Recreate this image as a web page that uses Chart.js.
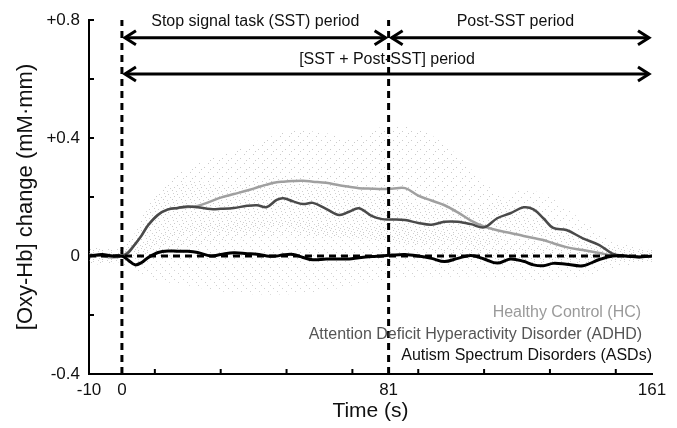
<!DOCTYPE html>
<html>
<head>
<meta charset="utf-8">
<script src="https://cdn.jsdelivr.net/npm/chart.js@4"></script>
<style>
  html, body { margin: 0; padding: 0; background: #fff; }
  #wrap { width: 677px; height: 428px; }
</style>
</head>
<body>
<div id="wrap"><canvas id="chartCanvas" width="677" height="428"></canvas></div>
<script>
// 時間點 (s)
const timeS = [-10, -6, -3, 0, 2, 4, 6, 8, 11, 14, 17, 20, 23, 27, 30, 34, 38, 41, 44, 47, 49, 52, 55, 58,
  62, 66, 69, 72, 76, 79, 82, 86, 90, 94, 98, 102, 106, 110, 114, 118, 122, 125, 128, 131, 135, 140,
  145, 149, 153, 157, 161];

// 平均 [Oxy-Hb] 變化
const hcMean = [0.005, 0.0, -0.005, 0.0, 0.015, 0.04, 0.07, 0.105, 0.14, 0.158, 0.163, 0.166, 0.17, 0.185,
  0.198, 0.21, 0.222, 0.232, 0.242, 0.25, 0.252, 0.254, 0.255, 0.252, 0.248, 0.24, 0.235, 0.23, 0.228,
  0.227, 0.228, 0.23, 0.205, 0.188, 0.172, 0.148, 0.12, 0.1, 0.087, 0.078, 0.068, 0.061, 0.054, 0.043,
  0.03, 0.02, 0.01, 0.002, 0.0, -0.003, 0.0];
const adhdMean = [0.0, 0.003, 0.0, 0.0, 0.012, 0.04, 0.07, 0.105, 0.14, 0.158, 0.163, 0.168, 0.165, 0.159,
  0.16, 0.163, 0.17, 0.172, 0.166, 0.19, 0.196, 0.185, 0.176, 0.18, 0.16, 0.139, 0.15, 0.162, 0.135,
  0.125, 0.124, 0.122, 0.112, 0.106, 0.116, 0.116, 0.108, 0.097, 0.128, 0.145, 0.165, 0.158, 0.128,
  0.095, 0.088, 0.06, 0.037, 0.008, 0.0, -0.003, 0.0];
const asdMean = [0.0, 0.005, 0.0, 0.0, -0.015, -0.03, -0.022, -0.005, 0.012, 0.017, 0.016, 0.016, 0.012, 0.0,
  0.005, 0.011, 0.008, 0.006, 0.0, 0.0, 0.004, 0.005, -0.005, -0.013, -0.01, -0.01, -0.01, -0.006,
  -0.002, 0.0, 0.003, 0.005, 0.0, -0.008, -0.019, -0.008, 0.002, -0.01, -0.024, -0.01, -0.018, -0.03,
  -0.033, -0.025, -0.028, -0.033, -0.012, 0.0, 0.0, -0.003, 0.0];

// 誤差帶 (點狀區域)
const bandTime = [-10, 0, 10, 20, 30, 40, 50, 60, 70, 80, 90, 100, 110, 120, 130, 140, 150, 161];
const hcUpper = [0.03, 0.03, 0.2, 0.3, 0.34, 0.38, 0.42, 0.42, 0.4, 0.44, 0.43, 0.36, 0.25, 0.16, 0.1, 0.06, 0.03, 0.02];
const hcLower = [-0.03, -0.02, 0.0, 0.03, 0.05, 0.06, 0.07, 0.06, 0.06, 0.05, 0.03, 0.0, -0.02, -0.03, -0.03, -0.03, -0.02, -0.02];
const adhdUpper = [0.02, 0.02, 0.2, 0.25, 0.24, 0.25, 0.27, 0.24, 0.22, 0.2, 0.18, 0.18, 0.16, 0.22, 0.2, 0.12, 0.05, 0.02];
const adhdLower = [-0.02, -0.02, 0.03, 0.08, 0.08, 0.09, 0.1, 0.07, 0.06, 0.05, 0.04, 0.05, 0.03, 0.09, 0.05, 0.01, -0.02, -0.02];
const asdUpper = [0.03, 0.03, 0.06, 0.1, 0.11, 0.12, 0.12, 0.11, 0.1, 0.1, 0.09, 0.08, 0.06, 0.05, 0.04, 0.03, 0.03, 0.02];
const asdLower = [-0.03, -0.03, -0.08, -0.1, -0.12, -0.13, -0.13, -0.12, -0.1, -0.08, -0.07, -0.07, -0.07, -0.08, -0.08, -0.07, -0.04, -0.02];

// 刻度
const xTickLabels = [-10, 0, 81, 161];
const xTickMarks = [10, 30, 50, 70, 90, 110, 130, 150];
const yTickLabels = [-0.4, 0, 0.4, 0.8];
const yTickMarks = [-0.2, 0, 0.2, 0.4, 0.6, 0.8];

// 期間標示
const periodBounds = [0, 81];
const periodArrows = [
  { from: 0, to: 81, y: 0.74 },
  { from: 81, to: 161, y: 0.74 },
  { from: 0, to: 161, y: 0.617 }
];
const periodLabels = [
  { text: 'Stop signal task (SST) period', x: 40.5, y: 0.793 },
  { text: 'Post-SST period', x: 119.5, y: 0.793 },
  { text: '[SST + Post-SST] period', x: 80.5, y: 0.665 }
];
const groupLabels = [
  { text: 'Healthy Control (HC)', x: 157.7, y: -0.193, color: '#9a9a9a' },
  { text: 'Attention Deficit Hyperactivity Disorder (ADHD)', x: 158, y: -0.267, color: '#555555' },
  { text: 'Autism Spectrum Disorders (ASDs)', x: 161, y: -0.338, color: '#111111' }
];

const FONT = '"Liberation Sans", Arial, Helvetica, sans-serif';

// 點狀圖樣
function makeStipple(dots, color) {
  const c = document.createElement('canvas');
  c.width = 9; c.height = 9;
  const g = c.getContext('2d');
  g.fillStyle = color;
  dots.forEach(([dx, dy]) => g.fillRect(dx, dy, 1, 1));
  return g.createPattern(c, 'repeat');
}

const toPts = (xs, ys) => xs.map((t, i) => ({ x: t, y: ys[i] }));

function bandPair(upper, lower, pattern) {
  return [
    { data: toPts(bandTime, upper), borderWidth: 0, pointRadius: 0, tension: 0.4,
      fill: '+1', backgroundColor: pattern, order: 10 },
    { data: toPts(bandTime, lower), borderWidth: 0, pointRadius: 0, tension: 0.4,
      fill: false, order: 10 }
  ];
}

const annotationPlugin = {
  id: 'annotations',
  beforeDraw(chart) {
    const ctx = chart.ctx;
    ctx.save();
    ctx.fillStyle = '#fff';
    ctx.fillRect(0, 0, chart.width, chart.height);
    ctx.restore();
  },
  afterDatasetsDraw(chart) {
    const { ctx, scales: { x, y } } = chart;
    ctx.save();
    // 內側刻度
    ctx.strokeStyle = '#000';
    ctx.lineWidth = 2;
    const y0 = y.getPixelForValue(-0.4);
    const x0 = x.getPixelForValue(-10);
    xTickMarks.forEach(v => {
      const px = x.getPixelForValue(v);
      ctx.beginPath(); ctx.moveTo(px, y0); ctx.lineTo(px, y0 - 5); ctx.stroke();
    });
    yTickMarks.forEach(v => {
      const py = y.getPixelForValue(v);
      ctx.beginPath(); ctx.moveTo(x0, py); ctx.lineTo(x0 + 5, py); ctx.stroke();
    });

    // 箭頭
    ctx.lineWidth = 3;
    ctx.lineCap = 'butt';
    const head = (px, py, dir) => {
      ctx.beginPath();
      ctx.moveTo(px - dir * 11, py - 7);
      ctx.lineTo(px, py);
      ctx.lineTo(px - dir * 11, py + 7);
      ctx.stroke();
    };
    periodArrows.forEach(a => {
      const xa = x.getPixelForValue(a.from) + 3;
      const xb = x.getPixelForValue(a.to) - 3;
      const py = y.getPixelForValue(a.y);
      ctx.beginPath(); ctx.moveTo(xa, py); ctx.lineTo(xb, py); ctx.stroke();
      head(xa, py, -1);
      head(xb, py, 1);
    });

    // 文字
    ctx.font = '16px ' + FONT;
    ctx.fillStyle = '#111';
    ctx.textAlign = 'center';
    ctx.textBaseline = 'middle';
    periodLabels.forEach(l => ctx.fillText(l.text, x.getPixelForValue(l.x), y.getPixelForValue(l.y)));

    ctx.font = '16px ' + FONT;
    ctx.textAlign = 'right';
    groupLabels.forEach(l => {
      ctx.fillStyle = l.color;
      ctx.fillText(l.text, x.getPixelForValue(l.x), y.getPixelForValue(l.y));
    });
    ctx.restore();
  }
};

const hcPattern = makeStipple([[1, 1], [6, 5], [3, 7]], 'rgba(140,140,140,0.45)');
const adhdPattern = makeStipple([[5, 2], [2, 4], [8, 8]], 'rgba(140,140,140,0.4)');
const asdPattern = makeStipple([[3, 0], [0, 6], [7, 3]], 'rgba(140,140,140,0.4)');

const dashStyle = { borderColor: '#000', borderWidth: 3, borderDash: [7, 5], pointRadius: 0, fill: false, order: 0 };

const datasets = [
  ...bandPair(hcUpper, hcLower, hcPattern),
  ...bandPair(adhdUpper, adhdLower, adhdPattern),
  ...bandPair(asdUpper, asdLower, asdPattern),
  { label: 'HC', data: toPts(timeS, hcMean), borderColor: '#a0a0a0', borderWidth: 2.5,
    pointRadius: 0, tension: 0.35, fill: false, order: 3 },
  { label: 'ADHD', data: toPts(timeS, adhdMean), borderColor: '#4a4a4a', borderWidth: 2.5,
    pointRadius: 0, tension: 0.35, fill: false, order: 2 },
  { label: 'ASD', data: toPts(timeS, asdMean), borderColor: '#000', borderWidth: 3,
    pointRadius: 0, tension: 0.35, fill: false, order: 1 },
  { data: [{ x: -10, y: 0 }, { x: 161, y: 0 }], ...dashStyle },
  ...periodBounds.map(t => ({ data: [{ x: t, y: -0.4 }, { x: t, y: 0.8 }], ...dashStyle }))
];

new Chart(document.getElementById('chartCanvas'), {
  type: 'line',
  data: { datasets },
  options: {
    responsive: false,
    animation: false,
    devicePixelRatio: 1,
    layout: { padding: { top: 20, right: 25, left: 0, bottom: 0 } },
    plugins: { legend: { display: false }, tooltip: { enabled: false } },
    scales: {
      x: {
        type: 'linear', min: -10, max: 161,
        afterBuildTicks: axis => { axis.ticks = xTickLabels.map(v => ({ value: v })); },
        afterFit: axis => { axis.height = 54; },
        grid: { display: false, drawTicks: false },
        border: { display: true, color: '#000', width: 2 },
        ticks: { color: '#111', font: { family: FONT, size: 17 }, padding: 6, maxRotation: 0, autoSkip: false },
        title: { display: true, text: 'Time (s)', color: '#111', font: { family: FONT, size: 21 }, padding: { top: 0, bottom: 4 } }
      },
      y: {
        min: -0.4, max: 0.8,
        afterBuildTicks: axis => { axis.ticks = yTickLabels.map(v => ({ value: v })); },
        afterFit: axis => { axis.width = 89; },
        grid: { display: false, drawTicks: false },
        border: { display: true, color: '#000', width: 2 },
        ticks: {
          color: '#111', font: { family: FONT, size: 17 }, padding: 9,
          callback: v => v > 0 ? '+' + v.toFixed(1) : (v === 0 ? '0' : v.toFixed(1))
        },
        title: { display: true, text: '[Oxy-Hb] change (mM·mm)', color: '#111', font: { family: FONT, size: 22 }, padding: { top: 13, bottom: 0 } }
      }
    }
  },
  plugins: [annotationPlugin]
});
</script>
</body>
</html>
